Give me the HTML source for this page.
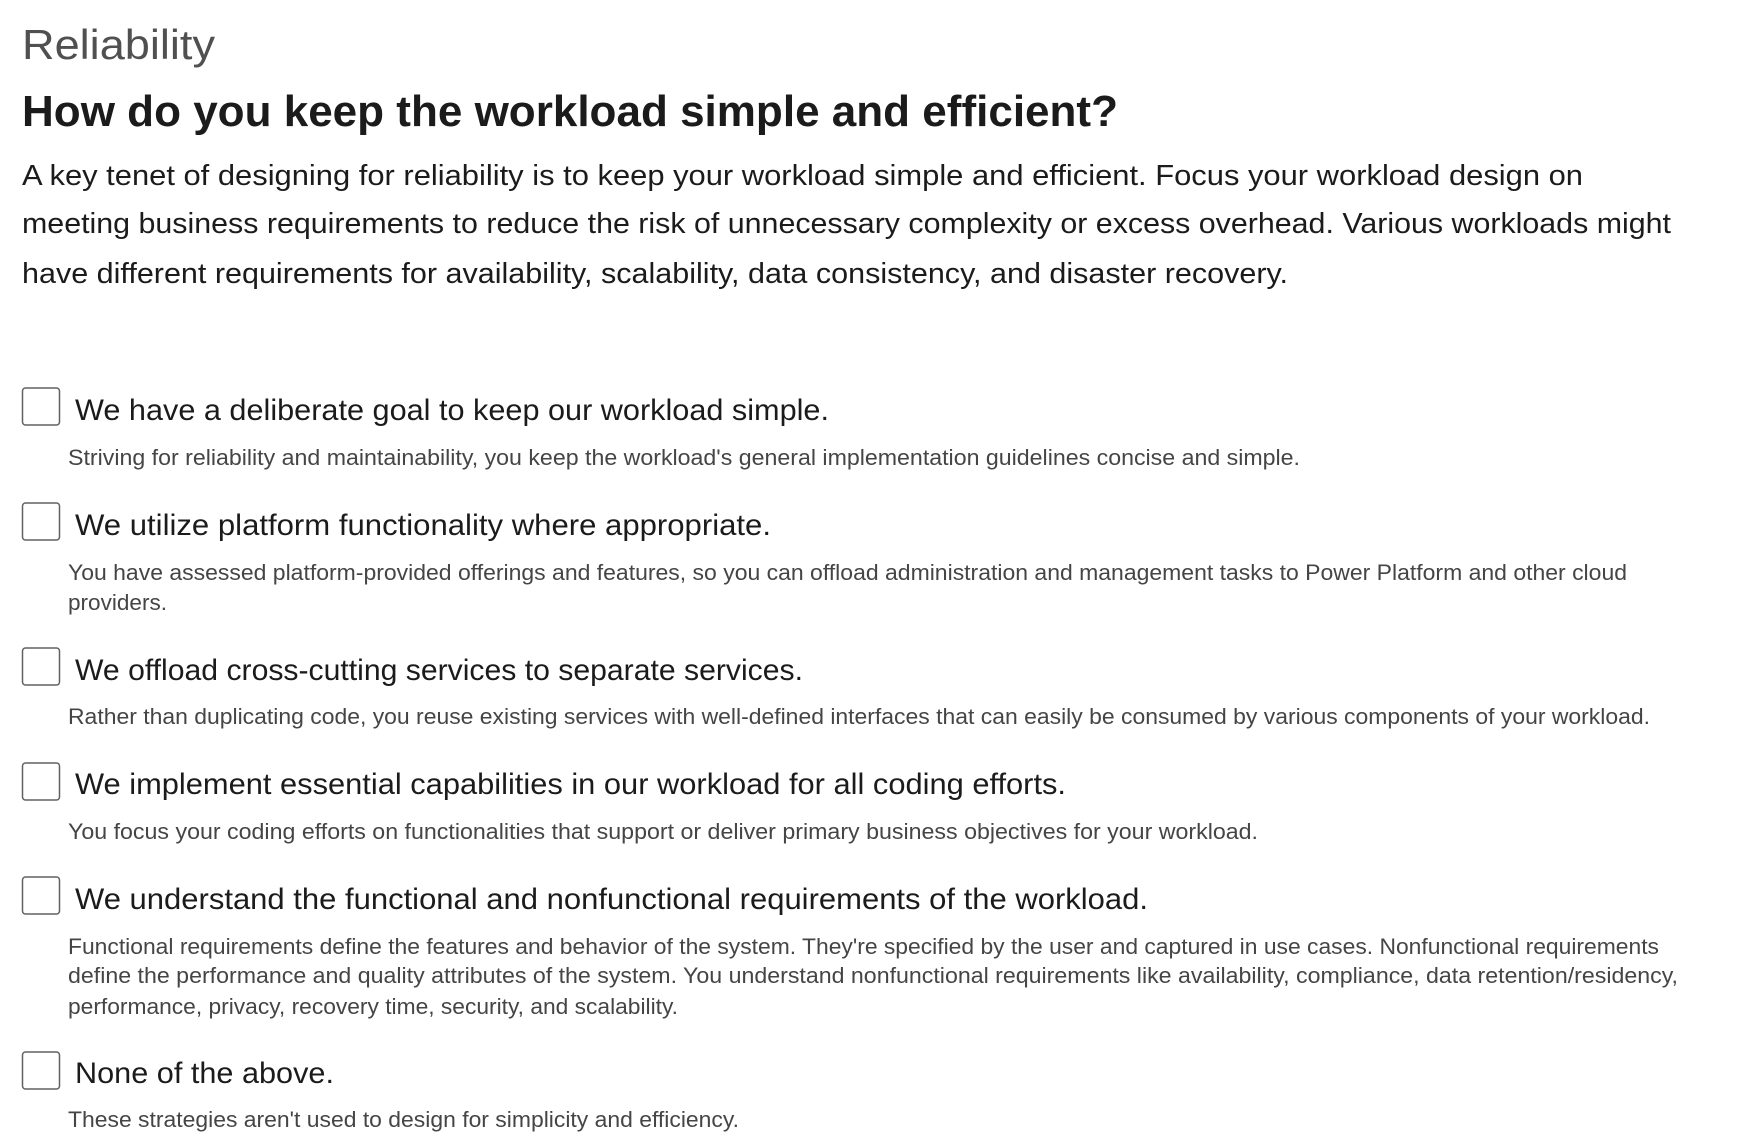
<!DOCTYPE html>
<html><head><meta charset="utf-8"><style>
html,body{margin:0;padding:0;background:#fff;}
svg{display:block;font-family:"Liberation Sans",sans-serif;}
.t{fill:#1b1b1b;font-size:30px;}
.d{fill:#454545;font-size:22px;}
.p{fill:#1b1b1b;font-size:29px;}
.cb{fill:#fff;stroke:#616161;stroke-width:1.5;}
</style></head><body>
<svg width="1744" height="1142" viewBox="0 0 1744 1142">
<text x="22" y="59" font-size="42" fill="#505050" textLength="193" lengthAdjust="spacingAndGlyphs">Reliability</text>
<text x="22" y="126" font-size="44" font-weight="bold" fill="#1b1b1b" textLength="1096" lengthAdjust="spacingAndGlyphs">How do you keep the workload simple and efficient?</text>
<g>
<text class="p" x="22" y="185" textLength="1561" lengthAdjust="spacingAndGlyphs">A key tenet of designing for reliability is to keep your workload simple and efficient. Focus your workload design on</text>
<text class="p" x="22" y="233" textLength="1649" lengthAdjust="spacingAndGlyphs">meeting business requirements to reduce the risk of unnecessary complexity or excess overhead. Various workloads might</text>
<text class="p" x="22" y="283" textLength="1266" lengthAdjust="spacingAndGlyphs">have different requirements for availability, scalability, data consistency, and disaster recovery.</text>
</g>

<g>
<rect class="cb" x="22.5" y="388" width="37" height="37" rx="3"/>
<text class="t" x="75" y="420" textLength="754" lengthAdjust="spacingAndGlyphs">We have a deliberate goal to keep our workload simple.</text>
<text class="d" x="68" y="465" textLength="1232" lengthAdjust="spacingAndGlyphs">Striving for reliability and maintainability, you keep the workload's general implementation guidelines concise and simple.</text>
</g>

<g>
<rect class="cb" x="22.5" y="503" width="37" height="37" rx="3"/>
<text class="t" x="75" y="535" textLength="696" lengthAdjust="spacingAndGlyphs">We utilize platform functionality where appropriate.</text>
<text class="d" x="68" y="580" textLength="1559" lengthAdjust="spacingAndGlyphs">You have assessed platform-provided offerings and features, so you can offload administration and management tasks to Power Platform and other cloud</text>
<text class="d" x="68" y="610" textLength="99" lengthAdjust="spacingAndGlyphs">providers.</text>
</g>

<g>
<rect class="cb" x="22.5" y="648" width="37" height="37" rx="3"/>
<text class="t" x="75" y="680" textLength="728" lengthAdjust="spacingAndGlyphs">We offload cross-cutting services to separate services.</text>
<text class="d" x="68" y="724" textLength="1582" lengthAdjust="spacingAndGlyphs">Rather than duplicating code, you reuse existing services with well-defined interfaces that can easily be consumed by various components of your workload.</text>
</g>

<g>
<rect class="cb" x="22.5" y="763" width="37" height="37" rx="3"/>
<text class="t" x="75" y="794" textLength="991" lengthAdjust="spacingAndGlyphs">We implement essential capabilities in our workload for all coding efforts.</text>
<text class="d" x="68" y="839" textLength="1190" lengthAdjust="spacingAndGlyphs">You focus your coding efforts on functionalities that support or deliver primary business objectives for your workload.</text>
</g>

<g>
<rect class="cb" x="22.5" y="877" width="37" height="37" rx="3"/>
<text class="t" x="75" y="909" textLength="1073" lengthAdjust="spacingAndGlyphs">We understand the functional and nonfunctional requirements of the workload.</text>
<text class="d" x="68" y="954" textLength="1591" lengthAdjust="spacingAndGlyphs">Functional requirements define the features and behavior of the system. They're specified by the user and captured in use cases. Nonfunctional requirements</text>
<text class="d" x="68" y="983" textLength="1610" lengthAdjust="spacingAndGlyphs">define the performance and quality attributes of the system. You understand nonfunctional requirements like availability, compliance, data retention/residency,</text>
<text class="d" x="68" y="1014" textLength="610" lengthAdjust="spacingAndGlyphs">performance, privacy, recovery time, security, and scalability.</text>
</g>

<g>
<rect class="cb" x="22.5" y="1052" width="37" height="37" rx="3"/>
<text class="t" x="75" y="1083" textLength="259" lengthAdjust="spacingAndGlyphs">None of the above.</text>
<text class="d" x="68" y="1127" textLength="671" lengthAdjust="spacingAndGlyphs">These strategies aren't used to design for simplicity and efficiency.</text>
</g>
</svg>
</body></html>
